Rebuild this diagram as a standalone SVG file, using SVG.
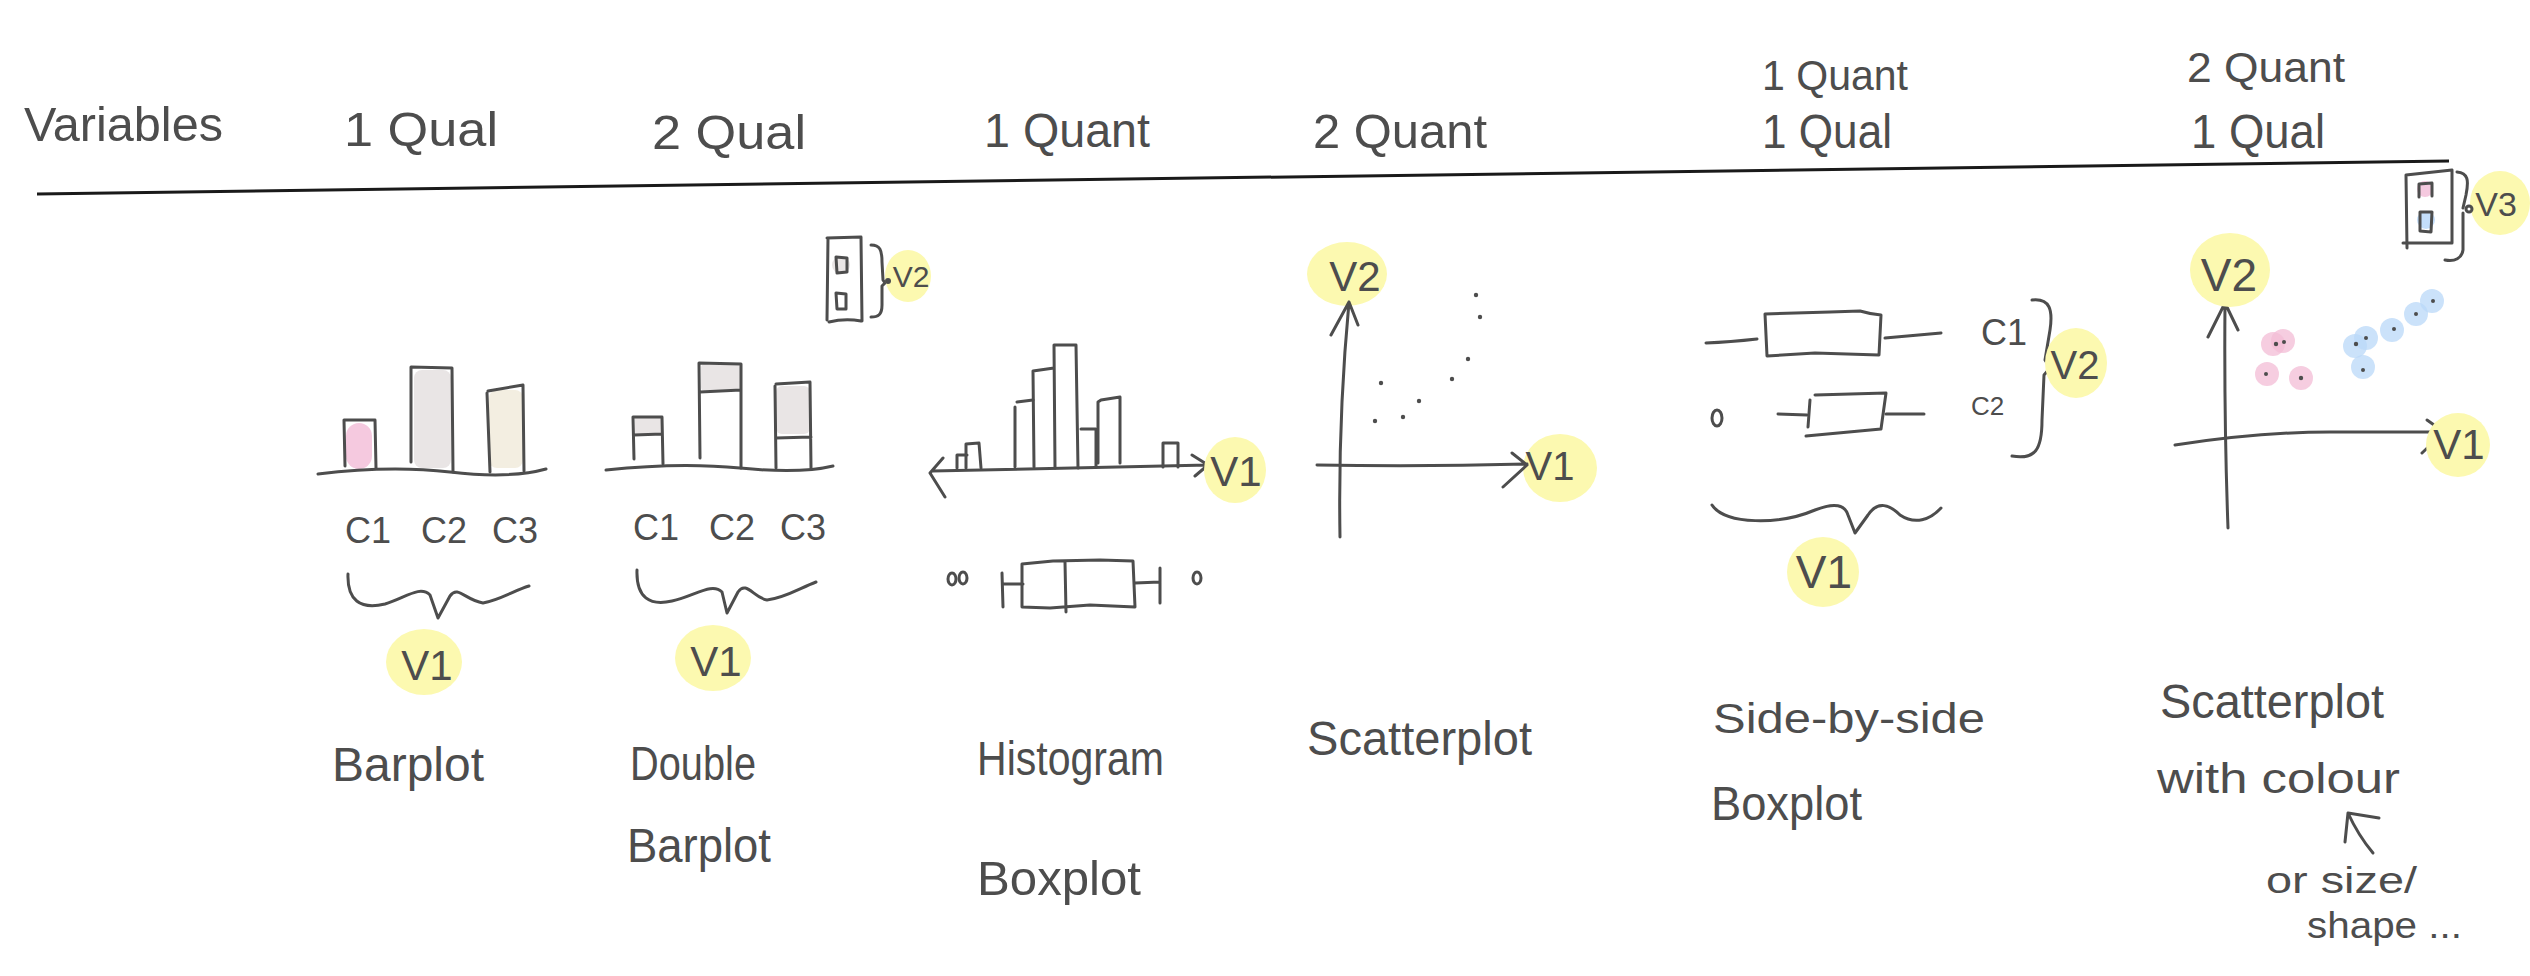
<svg xmlns="http://www.w3.org/2000/svg" width="2530" height="976" viewBox="0 0 2530 976">
<style>
.s{fill:none;stroke:#4d4d4d;stroke-width:3;stroke-linecap:round;stroke-linejoin:round}
.t{font-family:"Liberation Sans Narrow","Liberation Sans",Arial,sans-serif;fill:#4d4d4d}
.h{font-size:48px}
.l{font-size:48px}
.y{fill:#fcf9b0}
.d{fill:#4d4d4d}
.pk{fill:#f3bcd6;opacity:0.75}
.bl{fill:#b9d8f8;opacity:0.75}
</style>
<rect width="2530" height="976" fill="#ffffff"/>

<g id="header">
<text class="t h" x="24" y="141" textLength="199" lengthAdjust="spacingAndGlyphs">Variables</text>
<text class="t h" x="344" y="146" textLength="154" lengthAdjust="spacingAndGlyphs">1 Qual</text>
<text class="t h" x="652" y="149" textLength="154" lengthAdjust="spacingAndGlyphs">2 Qual</text>
<text class="t h" x="984" y="147" textLength="166" lengthAdjust="spacingAndGlyphs">1 Quant</text>
<text class="t h" x="1313" y="148" textLength="174" lengthAdjust="spacingAndGlyphs">2 Quant</text>
<text class="t" font-size="42" x="1762" y="90" textLength="146" lengthAdjust="spacingAndGlyphs">1 Quant</text>
<text class="t h" x="1762" y="148" textLength="130" lengthAdjust="spacingAndGlyphs">1 Qual</text>
<text class="t" font-size="42" x="2187" y="82" textLength="158" lengthAdjust="spacingAndGlyphs">2 Quant</text>
<text class="t h" x="2191" y="148" textLength="134" lengthAdjust="spacingAndGlyphs">1 Qual</text>
<path d="M37,194 L2449,161" fill="none" stroke="#1a1a1a" stroke-width="3"/>
</g>

<g id="barplot">
<rect x="346" y="423" width="26" height="46" rx="13" fill="#f5c9df"/>
<rect x="414" y="370" width="37" height="98" rx="8" fill="#e9e5e5"/>
<rect x="489" y="390" width="34" height="78" rx="8" fill="#f3eee1"/>
<path class="s" d="M345,466 L344,420 L375,420 L376,468"/>
<path class="s" d="M411,462 L411,367 L452,368 L453,472"/>
<path class="s" d="M487,393 L490,472 M488,391 L523,385 L524,471"/>
<path class="s" d="M318,474 Q390,465 450,472 T546,469"/>
<text class="t" font-size="36" x="345" y="543">C1</text>
<text class="t" font-size="36" x="421" y="543">C2</text>
<text class="t" font-size="36" x="492" y="543">C3</text>
<path class="s" d="M348,574 C347,600 360,610 385,604 C405,598 420,585 430,595 L438,618 L450,596 C458,585 465,600 483,603 C500,600 515,590 529,586"/>
<ellipse class="y" cx="424" cy="662" rx="38" ry="33"/>
<text class="t" font-size="42" x="427" y="680" text-anchor="middle">V1</text>
<text class="t l" x="332" y="781" textLength="152" lengthAdjust="spacingAndGlyphs">Barplot</text>
</g>

<g id="double-barplot">
<rect x="635" y="418" width="27" height="17" fill="#e9e5e5"/>
<rect x="701" y="364" width="39" height="27" rx="4" fill="#e9e5e5"/>
<rect x="776" y="386" width="34" height="48" rx="6" fill="#e9e5e5"/>
<path class="s" d="M634,459 L633,417 L662,417 L663,464 M634,435 L662,434"/>
<path class="s" d="M700,458 L699,363 L741,364 L741,468 M700,392 L741,390"/>
<path class="s" d="M775,386 L776,468 M776,384 L810,382 L811,468 M776,438 L811,437"/>
<path class="s" d="M606,470 Q680,462 740,468 T833,466"/>
<text class="t" font-size="36" x="633" y="540">C1</text>
<text class="t" font-size="36" x="709" y="540">C2</text>
<text class="t" font-size="36" x="780" y="540">C3</text>
<path class="s" d="M637,570 C636,598 650,606 672,601 C695,596 712,582 722,592 L727,613 L738,592 C746,580 754,598 767,600 C785,598 800,588 816,582"/>
<ellipse class="y" cx="713" cy="658" rx="38" ry="33"/>
<text class="t" font-size="42" x="716" y="676" text-anchor="middle">V1</text>
<circle cx="841" cy="265" r="9" fill="#e9e5e5"/>
<path class="s" d="M827,238 L861,237 L862,321 M828,238 L827,320 M829,322 Q845,318 861,321"/>
<path class="s" d="M836,257 L847,258 L847,272 L837,273 Z M836,293 L846,294 L846,309 L837,309 Z"/>
<path class="s" d="M871,245 C880,245 882,250 882,262 L883,280 L885,283 L882,286 L882,305 C882,315 878,317 871,317"/>
<ellipse class="y" cx="908" cy="276" rx="23" ry="26"/>
<circle class="d" cx="888" cy="281" r="3"/>
<text class="t" font-size="30" x="911" y="287" text-anchor="middle">V2</text>
<text class="t l" x="630" y="780" textLength="126" lengthAdjust="spacingAndGlyphs">Double</text>
<text class="t l" x="627" y="862" textLength="144" lengthAdjust="spacingAndGlyphs">Barplot</text>
</g>

<g id="histogram">
<path class="s" d="M932,471 L1208,465 M943,458 L930,473 L945,497 M1192,455 L1208,465 L1195,476"/>
<path class="s" d="M957,468 L957,455 L967,455 M966,468 L966,444 L979,443 L981,468"/>
<path class="s" d="M1015,467 L1015,407 M1017,402 L1033,400"/>
<path class="s" d="M1034,467 L1033,371 L1054,368 M1055,468 L1054,345 L1076,345 L1078,468"/>
<path class="s" d="M1081,429 L1096,429 L1096,467"/>
<path class="s" d="M1098,463 L1098,402 L1101,400 L1120,397 L1120,463"/>
<path class="s" d="M1163,467 L1163,443 L1178,443 L1178,467"/>
<ellipse class="y" cx="1235" cy="470" rx="31" ry="33"/>
<text class="t" font-size="42" x="1236" y="486" text-anchor="middle">V1</text>
<ellipse class="s" cx="952" cy="579" rx="4" ry="6" stroke-width="2"/>
<ellipse class="s" cx="963" cy="578" rx="4" ry="6" stroke-width="2"/>
<ellipse class="s" cx="1197" cy="578" rx="4" ry="6" stroke-width="2"/>
<path class="s" d="M1002,573 L1003,607 M1004,584 L1023,584 M1022,564 L1053,561 L1100,560 L1133,561 L1135,607 L1090,605 L1050,608 L1022,607 Z M1065,562 L1066,612 M1135,583 L1160,582 M1160,568 L1160,603"/>
<text class="t l" x="977" y="775" textLength="187" lengthAdjust="spacingAndGlyphs">Histogram</text>
<text class="t l" x="977" y="895" textLength="164" lengthAdjust="spacingAndGlyphs">Boxplot</text>
</g>

<g id="scatterplot">
<ellipse class="y" cx="1347" cy="274" rx="40" ry="32"/>
<text class="t" font-size="42" x="1355" y="291" text-anchor="middle">V2</text>
<ellipse class="y" cx="1560" cy="468" rx="37" ry="34"/>
<text class="t" font-size="40" x="1550" y="480" text-anchor="middle">V1</text>
<path class="s" d="M1340,537 Q1338,420 1349,302 M1331,335 L1349,302 L1358,325"/>
<path class="s" d="M1317,465 Q1420,467 1527,464 M1512,453 L1527,465 L1503,487"/>
<circle class="d" cx="1476" cy="295" r="2.2"/>
<circle class="d" cx="1480" cy="317" r="2.2"/>
<circle class="d" cx="1468" cy="359" r="2.2"/>
<circle class="d" cx="1452" cy="379" r="2.2"/>
<circle class="d" cx="1419" cy="401" r="2.2"/>
<circle class="d" cx="1381" cy="383" r="2.2"/>
<circle class="d" cx="1403" cy="417" r="2.2"/>
<circle class="d" cx="1375" cy="421" r="2.2"/>
<text class="t l" x="1307" y="755" textLength="225" lengthAdjust="spacingAndGlyphs">Scatterplot</text>
</g>

<g id="side-by-side-boxplot">
<path class="s" d="M1765,314 L1830,312 L1860,311 Q1870,314 1881,315 L1879,355 L1815,353 L1767,356 Z"/>
<path class="s" d="M1706,343 Q1730,342 1757,339 M1885,338 L1941,333"/>
<text class="t" font-size="36" x="1981" y="345">C1</text>
<path class="s" d="M1815,395 L1886,393 L1881,429 L1806,436 M1810,400 L1808,427"/>
<path class="s" d="M1778,414 L1807,415 M1886,414 L1924,414"/>
<ellipse class="s" cx="1717" cy="418" rx="5" ry="8" stroke-width="2"/>
<text class="t" font-size="26" x="1971" y="415">C2</text>
<path class="s" d="M2032,300 C2050,298 2053,310 2050,330 L2045,360 L2050,368 L2044,375 L2042,420 C2042,450 2035,460 2012,456"/>
<ellipse class="y" cx="2076" cy="363" rx="31" ry="35"/>
<text class="t" font-size="40" x="2075" y="379" text-anchor="middle">V2</text>
<path class="s" d="M1712,505 C1725,525 1780,525 1815,510 C1835,502 1845,505 1848,515 L1855,533 L1868,515 C1878,500 1890,505 1900,515 C1915,525 1930,520 1941,508"/>
<ellipse class="y" cx="1823" cy="572" rx="36" ry="35"/>
<text class="t" font-size="46" x="1824" y="588" text-anchor="middle">V1</text>
<text class="t" font-size="42" x="1713" y="733" textLength="272" lengthAdjust="spacingAndGlyphs">Side-by-side</text>
<text class="t l" x="1711" y="820" textLength="151" lengthAdjust="spacingAndGlyphs">Boxplot</text>
</g>

<g id="scatterplot-colour">
<circle class="pk" cx="2273" cy="344" r="12"/>
<circle class="pk" cx="2283" cy="341" r="12"/>
<circle class="pk" cx="2267" cy="374" r="12"/>
<circle class="pk" cx="2301" cy="378" r="12"/>
<circle class="bl" cx="2355" cy="346" r="12"/>
<circle class="bl" cx="2366" cy="338" r="12"/>
<circle class="bl" cx="2363" cy="367" r="12"/>
<circle class="bl" cx="2392" cy="330" r="12"/>
<circle class="bl" cx="2416" cy="314" r="12"/>
<circle class="bl" cx="2432" cy="301" r="12"/>
<circle class="d" cx="2276" cy="344" r="2.2"/>
<circle class="d" cx="2284" cy="342" r="2"/>
<circle class="d" cx="2266" cy="374" r="2"/>
<circle class="d" cx="2301" cy="378" r="2.2"/>
<circle class="d" cx="2356" cy="344" r="2.2"/>
<circle class="d" cx="2366" cy="338" r="2"/>
<circle class="d" cx="2363" cy="370" r="2"/>
<circle class="d" cx="2394" cy="329" r="2"/>
<circle class="d" cx="2416" cy="314" r="2"/>
<circle class="d" cx="2433" cy="301" r="2"/>
<path class="s" d="M2228,528 Q2224,420 2225,303 M2208,337 L2225,303 L2238,330"/>
<path class="s" d="M2175,445 Q2260,432 2330,432 L2444,432 M2427,420 L2444,432 L2422,453"/>
<ellipse class="y" cx="2230" cy="270" rx="40" ry="37"/>
<text class="t" font-size="46" x="2229" y="291" text-anchor="middle">V2</text>
<ellipse class="y" cx="2458" cy="445" rx="32" ry="32"/>
<text class="t" font-size="42" x="2459" y="459" text-anchor="middle">V1</text>
<circle cx="2425" cy="189" r="8" fill="#f5c9df"/>
<circle cx="2426" cy="220" r="9" fill="#c4defa"/>
<path class="s" d="M2406,175 L2452,170 L2452,243 M2406,175 L2407,248 M2403,243 L2452,243"/>
<path class="s" d="M2419,197 L2419,184 L2432,183 L2432,196 M2420,212 L2432,212 L2431,232 L2420,231 Z" stroke-width="2.5"/>
<ellipse class="y" cx="2500" cy="203" rx="30" ry="32"/>
<path class="s" d="M2457,172 C2468,173 2469,180 2466,195 L2463,208 M2463,213 L2463,250 C2462,258 2455,262 2445,260"/>
<circle class="s" cx="2469" cy="209" r="3" stroke-width="2"/>
<text class="t" font-size="34" x="2496" y="216" text-anchor="middle">V3</text>
<text class="t l" x="2160" y="718" textLength="224" lengthAdjust="spacingAndGlyphs">Scatterplot</text>
<text class="t" font-size="42" x="2157" y="793" textLength="243" lengthAdjust="spacingAndGlyphs">with colour</text>
<text class="t" font-size="36" x="2266" y="893" textLength="151" lengthAdjust="spacingAndGlyphs">or size/</text>
<text class="t" font-size="36" x="2307" y="938" textLength="155" lengthAdjust="spacingAndGlyphs">shape ...</text>
</g>

<g id="connectors">
<path class="s" d="M2373,853 Q2358,835 2348,813 M2379,818 L2348,813 L2345,842"/>
</g>
</svg>
